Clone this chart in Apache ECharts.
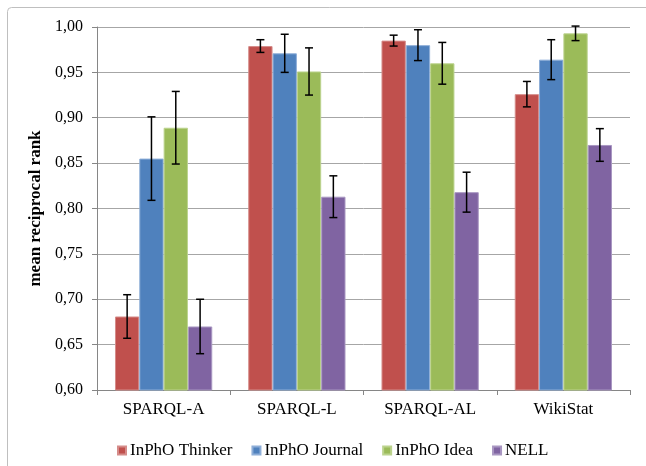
<!DOCTYPE html>
<html>
<head>
<meta charset="utf-8">
<script src="https://cdn.jsdelivr.net/npm/echarts@6/dist/echarts.min.js"></script>
<style>
html,body{margin:0;padding:0;background:#fff;}
#chart{width:646px;height:466px;}
</style>
</head>
<body>
<div id="chart"></div>
<script>
var categories = ['SPARQL-A', 'SPARQL-L', 'SPARQL-AL', 'WikiStat'];
var seriesNames = ['InPhO Thinker', 'InPhO Journal', 'InPhO Idea', 'NELL'];
var thinker = [0.681, 0.979, 0.985, 0.926];
var thinkerErr = [0.024, 0.007, 0.006, 0.014];
var journal = [0.855, 0.971, 0.980, 0.964];
var journalErr = [0.046, 0.021, 0.017, 0.022];
var idea = [0.889, 0.951, 0.960, 0.993];
var ideaErr = [0.040, 0.026, 0.023, 0.008];
var nell = [0.670, 0.813, 0.818, 0.870];
var nellErr = [0.030, 0.023, 0.022, 0.018];
var yTicks = [0.60, 0.65, 0.70, 0.75, 0.80, 0.85, 0.90, 0.95, 1.00];

var colors = ['#C0504D', '#4F81BD', '#9BBB59', '#8064A2'];
var borders = ['#D58C8A', '#8EAEd8', '#BCD38E', '#A997C2'];
var values = [thinker, journal, idea, nell];
var errs = [thinkerErr, journalErr, ideaErr, nellErr];
var FONT = 'Liberation Serif, Times New Roman, serif';
var CAT_GAP = 0.27;

var errData = [];
for (var s = 0; s < 4; s++) {
  for (var c = 0; c < categories.length; c++) {
    errData.push([c, s, values[s][c] - errs[s][c], values[s][c] + errs[s][c]]);
  }
}

var series = seriesNames.map(function (name, i) {
  return {
    name: name,
    type: 'bar',
    data: values[i],
    barGap: '0%',
    barCategoryGap: (CAT_GAP * 100) + '%',
    itemStyle: { color: colors[i], borderColor: borders[i], borderWidth: 1 },
    emphasis: { disabled: true }
  };
});

series.push({
  type: 'custom',
  name: 'err',
  data: errData,
  z: 10,
  clip: false,
  silent: true,
  renderItem: function (params, api) {
    var c = api.value(0), s = api.value(1);
    var band = api.size([1, 0])[0];
    var barW = band * (1 - CAT_GAP) / 4;
    var center = api.coord([c, api.value(2)]);
    var x = center[0] + (s - 1.5) * barW;
    var yLo = api.coord([c, api.value(2)])[1];
    var yHi = api.coord([c, api.value(3)])[1];
    var hw = 4;
    var st = { stroke: '#000', lineWidth: 1.5 };
    return {
      type: 'group',
      children: [
        { type: 'line', shape: { x1: x, y1: yLo, x2: x, y2: yHi }, style: st },
        { type: 'line', shape: { x1: x - hw, y1: yLo, x2: x + hw, y2: yLo }, style: st },
        { type: 'line', shape: { x1: x - hw, y1: yHi, x2: x + hw, y2: yHi }, style: st }
      ]
    };
  }
});

var chart = echarts.init(document.getElementById('chart'));
chart.setOption({
  backgroundColor: '#fff',
  animation: false,
  textStyle: { fontFamily: FONT },
  graphic: [{
    type: 'rect',
    shape: { x: 7.5, y: 7.5, width: 700, height: 500, r: 4 },
    style: { fill: 'none', stroke: '#BFBFBF', lineWidth: 1 },
    silent: true
  }],
  grid: { left: 97, right: 16, top: 27, bottom: 76, containLabel: false },
  legend: {
    data: seriesNames,
    left: 112,
    top: 437,
    icon: 'rect',
    itemWidth: 8,
    itemHeight: 8,
    itemGap: 19,
    textStyle: { fontFamily: FONT, fontSize: 17, color: '#000', padding: [0, 0, 0, -1] }
  },
  xAxis: {
    type: 'category',
    data: categories,
    axisLine: { lineStyle: { color: '#868686', width: 1 } },
    axisTick: { show: true, length: 5, lineStyle: { color: '#868686' } },
    axisLabel: { fontFamily: FONT, fontSize: 17, color: '#000', margin: 11 }
  },
  yAxis: {
    type: 'value',
    min: 0.6,
    max: 1.0,
    interval: 0.05,
    name: 'mean reciprocal rank',
    nameLocation: 'middle',
    nameGap: 50,
    nameTextStyle: { fontFamily: FONT, fontSize: 17, fontWeight: 'bold', color: '#000' },
    axisLine: { show: true, lineStyle: { color: '#868686', width: 1 } },
    axisTick: { show: true, length: 5, lineStyle: { color: '#868686' } },
    axisLabel: {
      fontFamily: FONT, fontSize: 16, color: '#000', margin: 14,
      formatter: function (v) {
        var best = yTicks.reduce(function (a, b) { return Math.abs(b - v) < Math.abs(a - v) ? b : a; });
        return best.toFixed(2).replace('.', ',');
      }
    },
    splitLine: { show: true, lineStyle: { color: '#A6A6A6', width: 1 } }
  },
  series: series
});
</script>
</body>
</html>
